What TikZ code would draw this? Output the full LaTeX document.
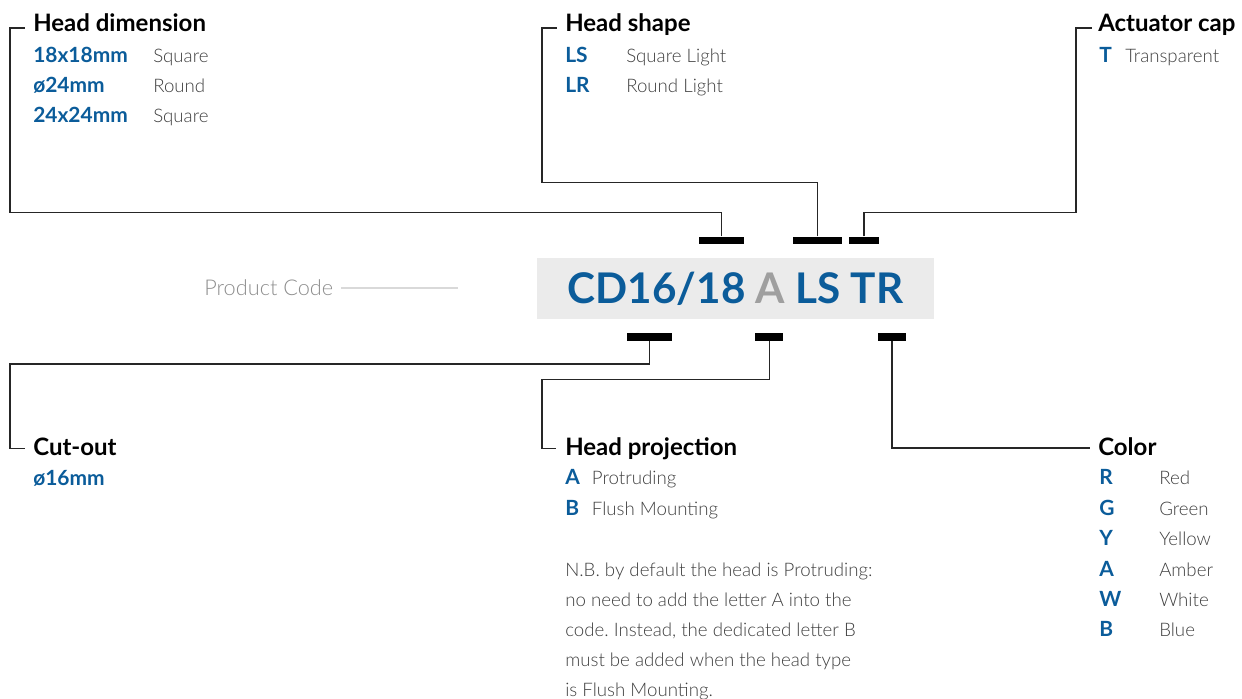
\documentclass[tikz,border=0pt]{standalone}
\usepackage{fontspec}
\setmainfont{Lato}
\newfontfamily\lightfont{Lato Light}
\usepackage{xcolor}
\usetikzlibrary{positioning,calc}
\frenchspacing

\definecolor{codeblue}{HTML}{0B5C9A}
\definecolor{descgray}{HTML}{3F3F3F}
\definecolor{softgray}{HTML}{8E8E8E}
\definecolor{boxgray}{HTML}{EBEBEB}
\definecolor{rulegray}{HTML}{D9D9D9}

\begin{document}
\begin{tikzpicture}[
    x=0.75pt, y=-0.75pt,
    title/.style={anchor=base west, inner sep=0pt, font=\fontsize{18}{20}\selectfont\bfseries, text=black},
    key/.style={anchor=base west, inner sep=0pt, font=\fontsize{15.7}{17}\selectfont\bfseries, text=codeblue},
    desc/.style={anchor=base west, inner sep=0pt, font=\lightfont\fontsize{14}{16}\selectfont, text=descgray},
    bar/.style={rectangle, fill=black, inner sep=0pt, minimum height=5.7pt},
    link/.style={line width=0.9pt, draw=black!85}
]
\useasboundingbox (0,0) rectangle (1242,699);

% product code box
\node[fill=boxgray, minimum width=297.75pt, minimum height=45.75pt, inner sep=0pt,
      text height=22.5pt, text depth=0pt, font=\fontsize{31.7}{33}\selectfont\bfseries, text=codeblue]
      (code) at (735.5,288.5) {CD16/18 {\color{softgray!85}A} LS TR};
\node[anchor=base west, inner sep=0pt, font=\lightfont\fontsize{16.3}{18}\selectfont, text=softgray] (pc) at (204,295.7) {Product Code};
\coordinate (pcend) at (457.7,288.7);
\draw[rulegray, line width=1.5pt] ([xshift=6pt]pc.east) -- (pcend |- pc.east);

% marker bars
\node[bar, minimum width=33.75pt] (bar1) at (721.5,240.5) {};
\node[bar, minimum width=36.75pt] (bar2) at (817.5,240.5) {};
\node[bar, minimum width=22.5pt] (bar3) at (864,240.5) {};
\node[bar, minimum width=34.2pt] (bar4) at (649.5,337) {};
\node[bar, minimum width=21pt] (bar5) at (769.3,337) {};
\node[bar, minimum width=21pt] (bar6) at (892,337) {};

% head dimension
\node[title] (hdim) at (33,32) {Head dimension};
\node[key] (hd1) at (33,62.7) {18x18mm};
\node[desc] (hd1d) at (153,62.7) {Square};
\node[key] (hd2) at (33,92.7) {ø24mm};
\node[desc] (hd2d) at (153,92.7) {Round};
\node[key] (hd3) at (33,122.7) {24x24mm};
\node[desc] (hd3d) at (153,122.7) {Square};

% head shape
\node[title] (hshape) at (565,32) {Head shape};
\node[key] (hs1) at (565,63) {LS};
\node[desc] (hs1d) at (626,63) {Square Light};
\node[key] (hs2) at (565,93) {LR};
\node[desc] (hs2d) at (626,93) {Round Light};

% actuator cap
\node[title] (act) at (1098,32) {Actuator cap};
\node[key] (ac1) at (1099,62.7) {T};
\node[desc] (ac1d) at (1125,62.7) {Transparent};

% cut-out
\node[title] (cut) at (33,455) {Cut-out};
\node[key] (co1) at (33,485) {ø16mm};

% head projection
\node[title] (hproj) at (565,455) {Head projection};
\node[key] (hp1) at (565,484) {A};
\node[desc] (hp1d) at (591.7,484) {Protruding};
\node[key] (hp2) at (565,515) {B};
\node[desc] (hp2d) at (591.7,515) {Flush Mounting};
\node[desc] (note1) at (565,576) {N.B. by default the head is Protruding:};
\node[desc] (note2) at (565,606) {no need to add the letter A into the};
\node[desc] (note3) at (565,636) {code. Instead, the dedicated letter B};
\node[desc] (note4) at (565,666) {must be added when the head type};
\node[desc] (note5) at (565,696) {is Flush Mounting.};

% color
\node[title] (color) at (1098,455) {Color};
\node[key] (cl1) at (1099,484) {R};
\node[desc] (cl1d) at (1159,484) {Red};
\node[key] (cl2) at (1099,515) {G};
\node[desc] (cl2d) at (1159,515) {Green};
\node[key] (cl3) at (1099,545.5) {Y};
\node[desc] (cl3d) at (1159,545.5) {Yellow};
\node[key] (cl4) at (1099,576) {A};
\node[desc] (cl4d) at (1159,576) {Amber};
\node[key] (cl5) at (1099,606) {W};
\node[desc] (cl5d) at (1159,606) {White};
\node[key] (cl6) at (1099,636) {B};
\node[desc] (cl6d) at (1159,636) {Blue};

% elbows
\coordinate (hdknee) at (10,212.7);
\coordinate (hsknee) at (542,182.7);
\coordinate (acknee) at (1076,212.7);
\coordinate (coknee) at (10,364);
\coordinate (hpknee) at (542,379.3);

\draw[link] (bar1.north) |- (hdknee) |- ([shift={(-8,-4)}]hdim.base west);
\draw[link] (bar2.north) |- (hsknee) |- ([shift={(-8,-4)}]hshape.base west);
\draw[link] (bar3.north) |- (acknee) |- ([shift={(-6,-4)}]act.base west);
\draw[link] (bar4.south) |- (coknee) |- ([shift={(-8,-6.5)}]cut.base west);
\draw[link] (bar5.south) |- (hpknee) |- ([shift={(-9,-6.5)}]hproj.base west);
\draw[link] (bar6.south) |- ([shift={(-8,-7)}]color.base west);

\end{tikzpicture}
\end{document}
